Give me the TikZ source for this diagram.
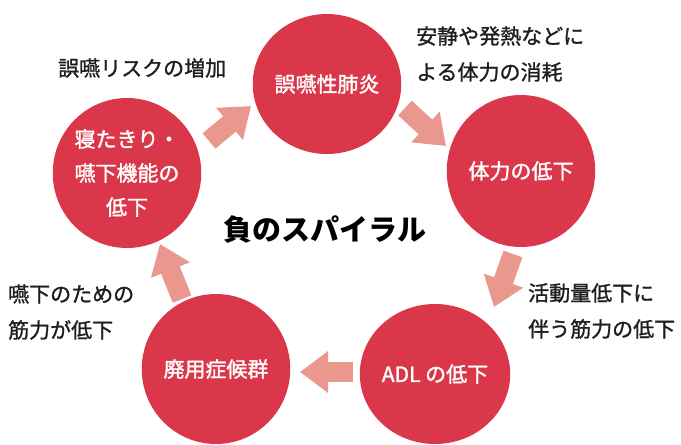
\documentclass[tikz,border=0pt]{standalone}
\usepackage{fontspec}
\setmainfont{Noto Sans CJK JP}
\newfontfamily\medfont[FakeBold=1.5]{Noto Sans CJK JP}
\newfontfamily\notefont[FakeBold=1.2]{Noto Sans CJK JP}
\usetikzlibrary{shapes.geometric,arrows.meta}
\definecolor{circred}{RGB}{218,56,74}
\definecolor{arrowpink}{RGB}{234,152,142}
\definecolor{inkgray}{RGB}{30,30,30}
\tikzset{
  bubble/.style={ellipse, fill=circred, draw=none, inner sep=0pt, text=white,
    font=\medfont\fontsize{21}{34}\selectfont, align=center},
  note/.style={inner sep=0pt, text=inkgray, align=left,
    font=\notefont\fontsize{21}{36}\selectfont},
  flow/.style={line width=20pt, draw=arrowpink, -{Triangle[length=28pt,width=40pt]}},
}
\begin{document}
\begin{tikzpicture}[x=1pt,y=-1pt]
\useasboundingbox (0,0) rectangle (681,445);
% circles
\node[bubble, minimum width=132pt, minimum height=140pt] (pneu) at (327,84) {誤嚥性肺炎};
\node[bubble, minimum width=134pt, minimum height=152pt] (stam) at (521,171) {体力の低下};
\node[bubble, minimum width=130pt, minimum height=140pt] (adl) at (435,374) {ADL の低下};
\node[bubble, minimum width=122pt, minimum height=150pt] (disuse) at (216,369) {廃用症候群};
\node[bubble, minimum width=124pt, minimum height=150pt] (bed) at (127,173) {寝たきり・\\嚥下機能の\\低下};
% title
\node[inner sep=0pt, text=black, font=\fontsize{29}{30}\selectfont\bfseries] (title) at (325,230) {負のスパイラル};
% notes
\node[note, anchor=west] (n1) at (416,54) {安静や発熱などに\\よる体力の消耗};
\node[note, anchor=west] (n2) at (58,68) {誤嚥リスクの増加};
\node[note, anchor=west] (n3) at (8,312) {嚥下のための\\筋力が低下};
\node[note, anchor=west] (n4) at (528,311) {活動量低下に\\伴う筋力の低下};
% arrow end points
\coordinate (a1s) at (209,141); \coordinate (a1e) at (251,106);
\coordinate (a2s) at (405,108); \coordinate (a2e) at (446,146);
\coordinate (a3s) at (513,254); \coordinate (a3e) at (494,307);
\coordinate (a4s) at (353,372); \coordinate (a4e) at (300,372);
\coordinate (a5s) at (182,299); \coordinate (a5e) at (160,244);
\draw[flow] (a1s) -- (a1e);
\draw[flow] (a2s) -- (a2e);
\draw[flow] (a3s) -- (a3e);
\draw[flow] (a4s) -- (a4e);
\draw[flow] (a5s) -- (a5e);
\end{tikzpicture}
\end{document}
